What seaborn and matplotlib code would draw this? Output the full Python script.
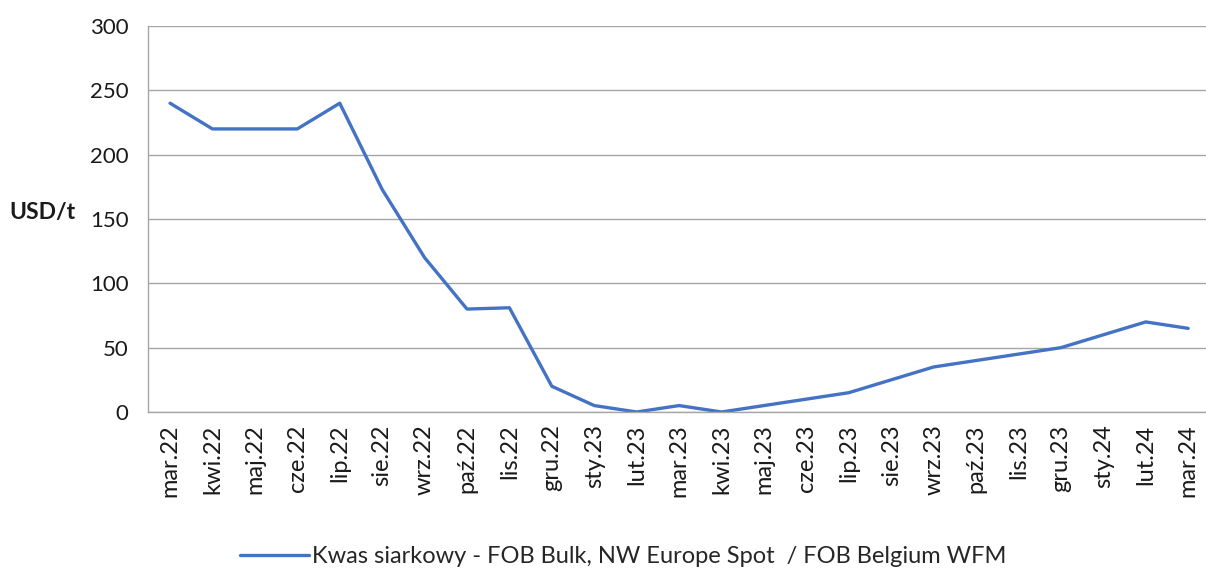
import pandas as pd
import matplotlib
matplotlib.use("Agg")
import matplotlib.pyplot as plt
import seaborn as sns

# ===== DATA =====
months = ["mar.22", "kwi.22", "maj.22", "cze.22", "lip.22", "sie.22", "wrz.22",
          "paź.22", "lis.22", "gru.22", "sty.23", "lut.23", "mar.23", "kwi.23",
          "maj.23", "cze.23", "lip.23", "sie.23", "wrz.23", "paź.23", "lis.23",
          "gru.23", "sty.24", "lut.24", "mar.24"]
prices = [240, 220, 220, 220, 240, 173, 120, 80, 81, 20, 5, 0, 5, 0,
          5, 10, 15, 25, 35, 40, 45, 50, 60, 70, 65]
series_name = "Kwas siarkowy - FOB Bulk, NW Europe Spot  / FOB Belgium WFM"
y_ticks = [0, 50, 100, 150, 200, 250, 300]

df = pd.DataFrame({"pos": range(len(months)), "price": prices})

sns.set_style("white")
plt.rcParams['font.family'] = ['Lato', 'DejaVu Sans']

fig = plt.figure(figsize=(12.06, 5.70), dpi=100)
ax = fig.add_axes([0.1227, 0.2772, 0.8773, 0.6772])

sns.lineplot(data=df, x="pos", y="price", ax=ax, color="#4472C4",
             linewidth=2.4, label=series_name, legend=False)

ax.set_xlim(-0.52, 24.42)
ax.set_ylim(0, 300)
ax.set_yticks(y_ticks)
ax.set_xticks(range(len(months)))
ax.set_xticklabels(months, rotation=90, fontsize=17, color="#1a1a1a")
ax.tick_params(axis="y", length=0, pad=14, labelsize=16, labelcolor="#1a1a1a")
ax.tick_params(axis="x", length=0, pad=9)

ax.grid(axis="y", color="#a6a6a6", linewidth=1)
ax.grid(axis="x", visible=False)
for side in ["top", "right"]:
    ax.spines[side].set_visible(False)
for side in ["left", "bottom"]:
    ax.spines[side].set_color("#a6a6a6")
    ax.spines[side].set_linewidth(1)

ax.set_xlabel("")
ax.set_ylabel("USD/t", rotation=0, fontsize=16.5, fontweight="bold", color="#1a1a1a")
ax.yaxis.set_label_coords(-0.1, 0.49)

handles, labels = ax.get_legend_handles_labels()
fig.legend(handles, labels, loc="center", bbox_to_anchor=(0.517, 0.024),
           frameon=False, fontsize=17, handlelength=2.9, handletextpad=0.15)

fig.savefig("out.png", dpi=100)
